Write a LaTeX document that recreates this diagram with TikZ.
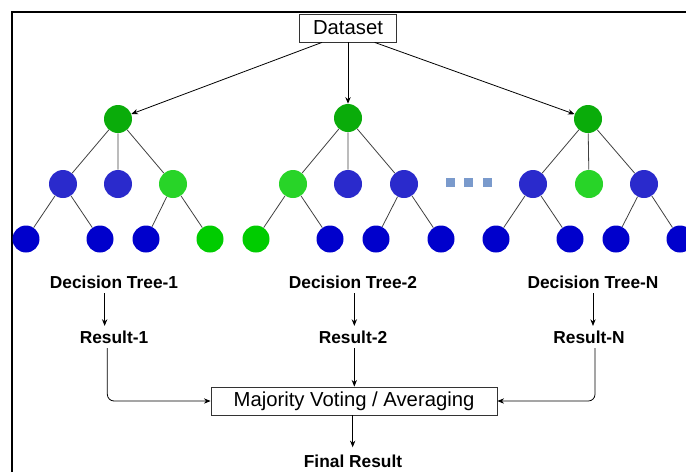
\documentclass[tikz,border=0pt]{standalone}
\usepackage{fontspec}
\setmainfont{Liberation Sans}
\usetikzlibrary{arrows.meta,positioning}

\definecolor{rootgreen}{RGB}{10,172,10}
\definecolor{midblue}{RGB}{42,42,204}
\definecolor{midgreen}{RGB}{40,212,40}
\definecolor{leafblue}{RGB}{0,0,204}
\definecolor{leafgreen}{RGB}{0,204,0}
\definecolor{dotblue}{RGB}{122,154,204}

\begin{document}
\begin{tikzpicture}
      [x=0.75pt, y=-0.75pt,
        >={Stealth[length=5pt,width=4pt]},
        line/.style={draw, ->, line width=0.6pt},
        edge/.style={draw, black!75, line width=0.6pt},
        box/.style={
          rectangle,
          draw=black!80, line width=0.6pt,
          font=\fontsize{15.2}{18}\selectfont,
          minimum height=21pt,
        },
        rootnode/.style={circle, fill=rootgreen, minimum size=21pt, inner sep=0pt},
        midnode/.style={circle, fill=#1, minimum size=21pt, inner sep=0pt},
        leafnode/.style={circle, fill=#1, minimum size=20.25pt, inner sep=0pt},
        gapdot/.style={rectangle, fill=dotblue, minimum size=6.75pt, inner sep=0pt},
        treename/.style={font=\bfseries\fontsize{13}{15}\selectfont},
      ]
      \useasboundingbox (0,0) rectangle (686,472);
      \draw[line width=1.2pt] (12,472) -- (12,12) -- (686,12);

      \node[box, minimum width=72.75pt] (data) at (348,28) {Dataset};

      % tree 1
      \node[rootnode] (root1) at (118,119) {};
      \node[midnode=midblue] (n1a) at (63,184) {};
      \node[midnode=midblue] (n1b) at (118,184) {};
      \node[midnode=midgreen] (n1c) at (173,184) {};
      \node[leafnode=leafblue] (l1a) at (26,239) {};
      \node[leafnode=leafblue] (l1b) at (100,239) {};
      \node[leafnode=leafblue] (l1c) at (146,239) {};
      \node[leafnode=leafgreen] (l1d) at (210,239) {};

      % tree 2
      \node[rootnode] (root2) at (348,118) {};
      \node[midnode=midgreen] (n2a) at (293,184) {};
      \node[midnode=midblue] (n2b) at (348,184) {};
      \node[midnode=midblue] (n2c) at (404,184) {};
      \node[leafnode=leafgreen] (l2a) at (256,239) {};
      \node[leafnode=leafblue] (l2b) at (330,239) {};
      \node[leafnode=leafblue] (l2c) at (376,239) {};
      \node[leafnode=leafblue] (l2d) at (441,239) {};

      % tree N
      \node[rootnode] (rootN) at (588,119) {};
      \node[midnode=midblue] (nNa) at (533,184) {};
      \node[midnode=midgreen] (nNb) at (589,184) {};
      \node[midnode=midblue] (nNc) at (644,184) {};
      \node[leafnode=leafblue] (lNa) at (496,239) {};
      \node[leafnode=leafblue] (lNb) at (570,239) {};
      \node[leafnode=leafblue] (lNc) at (616,239) {};
      \node[leafnode=leafblue] (lNd) at (680,239) {};

      \node[gapdot] (gap1) at (450,182) {};
      \node[gapdot] (gap2) at (468,182) {};
      \node[gapdot] (gap3) at (487,182) {};

      \draw[edge] (root1) -- (n1a) (root1) -- (n1b) (root1) -- (n1c)
        (n1a) -- (l1a) (n1a) -- (l1b) (n1c) -- (l1c) (n1c) -- (l1d);
      \draw[edge] (root2) -- (n2a) (root2) -- (n2b) (root2) -- (n2c)
        (n2a) -- (l2a) (n2a) -- (l2b) (n2c) -- (l2c) (n2c) -- (l2d);
      \draw[edge] (rootN) -- (nNa) (rootN) -- (nNb) (rootN) -- (nNc)
        (nNa) -- (lNa) (nNa) -- (lNb) (nNc) -- (lNc) (nNc) -- (lNd);

      \draw[line] ([xshift=-19.5pt]data.south) -- (root1);
      \draw[line] (data) -- (root2);
      \draw[line] ([xshift=20pt]data.south) -- (rootN);

      \node[treename] (dt1) at (114,282) {Decision Tree-1};
      \node[treename] (dt2) at (353,282) {Decision Tree-2};
      \node[treename] (dtN) at (593,282) {Decision Tree-N};
      \node[treename] (res1) at (114,337) {Result-1};
      \node[treename] (res2) at (353,337) {Result-2};
      \node[treename] (resN) at (589,337) {Result-N};
      \node[box, minimum width=214.5pt] (vote) at (354,401) {Majority Voting / Averaging};
      \node[treename] (final) at (353,461) {Final Result};

      \draw[line] ([xshift=-7pt]dt1.south) -- ([xshift=-7pt]dt1.south |- res1.north);
      \draw[line] ([xshift=1pt]dt2.south) -- ([xshift=1pt]dt2.south |- res2.north);
      \draw[line] (dtN) -- (dtN |- resN.north);
      \draw[line] ([xshift=1pt]res2.south) -- ([xshift=1pt]res2.south |- vote.north);
      \draw[line, rounded corners=5pt] ([xshift=-5pt]res1.south) |- (vote.west);
      \draw[line, rounded corners=5pt] ([xshift=4.5pt]resN.south) |- (vote.east);
      \draw[line, shorten >=2pt] ([xshift=-1pt]vote.south) -- ([xshift=-1pt]vote.south |- final.north);
    \end{tikzpicture}
\end{document}
